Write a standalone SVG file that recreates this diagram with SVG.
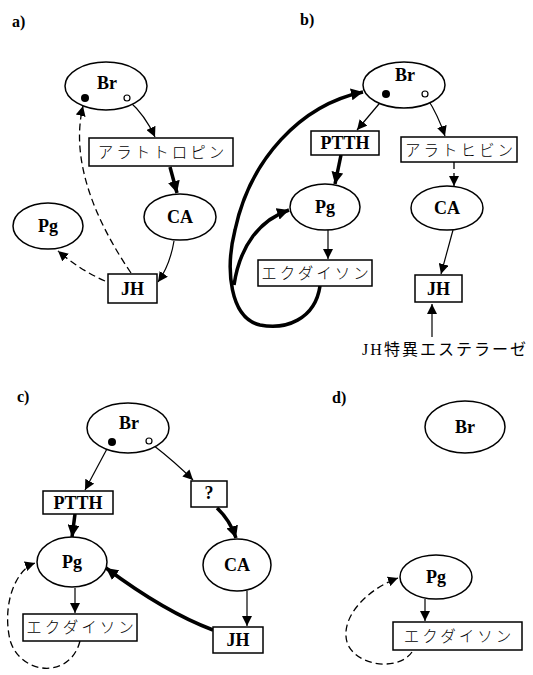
<svg xmlns="http://www.w3.org/2000/svg" width="533" height="675" viewBox="0 0 533 675">
<defs>
<style>
.bg{fill:#fff}
.n{fill:#fff;stroke:#000;stroke-width:1.5}
.lb{font-family:"Liberation Serif","Times New Roman",serif;font-weight:bold;font-size:18px;text-anchor:middle;fill:#000}
.pl{font-family:"Liberation Serif","Times New Roman",serif;font-weight:bold;font-size:16px;fill:#000}
.kt{font-family:"Noto Sans CJK JP",sans-serif;font-weight:300;font-size:15.5px;text-anchor:middle;letter-spacing:3px;fill:#000}
.es{font-family:"Liberation Serif","Noto Sans CJK JP",serif;font-size:16px;text-anchor:middle;letter-spacing:2px;fill:#000}
.c{fill:none;stroke:#000;stroke-width:1.2}
.t{fill:none;stroke:#000;stroke-width:3.5}
.d{fill:none;stroke:#000;stroke-width:1.3;stroke-dasharray:7 4}
</style>
<marker id="ah" markerUnits="userSpaceOnUse" markerWidth="12" markerHeight="10" refX="10" refY="5" orient="auto"><path d="M0,0 L10,5 L0,10 z" fill="#000"/></marker>
<marker id="ahT" markerUnits="userSpaceOnUse" markerWidth="14" markerHeight="12" refX="12" refY="6" orient="auto"><path d="M0,0 L12,6 L0,12 z" fill="#000"/></marker>
</defs>
<rect class="bg" x="0" y="0" width="533" height="675"/>

<!-- panel labels -->
<text class="pl" x="12" y="27">a)</text>
<text class="pl" x="300" y="25">b)</text>
<text class="pl" x="17" y="402">c)</text>
<text class="pl" x="332" y="403">d)</text>

<g id="connectors">
<!-- a -->
<path class="c" d="M129,101 Q145,115 155,137" marker-end="url(#ah)"/>
<path class="t" d="M170,167 L177,193" marker-end="url(#ahT)"/>
<path class="c" d="M174,241 Q170,265 158,282" marker-end="url(#ah)"/>
<path class="d" d="M131,273 C95,220 70,160 83,106" marker-end="url(#ah)"/>
<path class="d" d="M105,281 Q80,270 58,251" marker-end="url(#ah)"/>
<!-- b -->
<path class="c" d="M384,98 L357,130" marker-end="url(#ah)"/>
<path class="c" d="M427,98 Q438,115 445,136" marker-end="url(#ah)"/>
<path class="t" d="M341,155 L335,184" marker-end="url(#ahT)"/>
<path class="d" d="M454,162 L454,186" marker-end="url(#ah)"/>
<path class="c" d="M328,230 L328,259" marker-end="url(#ah)"/>
<path class="c" d="M453,230 L441,274" marker-end="url(#ah)"/>
<path class="c" d="M432,337 L432,304" marker-end="url(#ah)"/>
<path class="t" d="M320,286 C315,320 285,330 260,325 C230,318 225,270 235,230 C250,160 300,105 363,92" marker-end="url(#ahT)"/>
<path class="t" d="M234,285 C240,245 260,220 289,210" marker-end="url(#ahT)"/>
<!-- c -->
<path class="c" d="M108,447 L85,490" marker-end="url(#ah)"/>
<path class="c" d="M153,445 Q175,462 193,480" marker-end="url(#ah)"/>
<path class="t" d="M217,508 Q230,520 236,538" marker-end="url(#ahT)"/>
<path class="t" d="M75,514 L72,537" marker-end="url(#ahT)"/>
<path class="c" d="M75,588 L75,613" marker-end="url(#ah)"/>
<path class="c" d="M247,591 L247,626" marker-end="url(#ah)"/>
<path class="t" d="M213,630 Q165,612 106,568" marker-end="url(#ahT)"/>
<path class="d" d="M80,641 C70,680 20,675 10,640 C2,605 15,570 35,563" marker-end="url(#ah)"/>
<!-- d -->
<path class="c" d="M425,599 L425,621" marker-end="url(#ah)"/>
<path class="d" d="M412,652 C400,670 360,668 348,645 C338,620 365,590 398,578" marker-end="url(#ah)"/>
</g>

<!-- panel a nodes -->
<g id="a-Br"><ellipse class="n" cx="106" cy="86" rx="41" ry="24"/><text class="lb" x="107" y="89">Br</text><circle cx="85" cy="98" r="4" fill="#000"/><circle cx="127" cy="98" r="3" fill="#fff" stroke="#000" stroke-width="1.2"/></g>
<g id="a-allatotropin"><rect class="n" x="89" y="138" width="144" height="28"/><text class="kt" x="162.5" y="158">アラトトロピン</text></g>
<g id="a-CA"><ellipse class="n" cx="180" cy="217" rx="36" ry="23"/><text class="lb" x="180" y="223">CA</text></g>
<g id="a-Pg"><ellipse class="n" cx="48" cy="226" rx="35" ry="23"/><text class="lb" x="48" y="232">Pg</text></g>
<g id="a-JH"><rect class="n" x="108" y="274" width="49" height="29"/><text class="lb" x="132.5" y="295">JH</text></g>

<!-- panel b nodes -->
<g id="b-Br"><ellipse class="n" cx="404" cy="85" rx="41" ry="23"/><text class="lb" x="405" y="81">Br</text><circle cx="386" cy="94" r="4" fill="#000"/><circle cx="425" cy="94" r="3" fill="#fff" stroke="#000" stroke-width="1.2"/></g>
<g id="b-PTTH"><rect class="n" x="311" y="131" width="68" height="24"/><text class="lb" x="345" y="149">PTTH</text></g>
<g id="b-allatohibin"><rect class="n" x="401" y="137" width="116" height="25"/><text class="kt" x="460.5" y="156">アラトヒビン</text></g>
<g id="b-Pg"><ellipse class="n" cx="325" cy="207" rx="35" ry="23"/><text class="lb" x="325" y="213">Pg</text></g>
<g id="b-CA"><ellipse class="n" cx="447" cy="208" rx="36" ry="22"/><text class="lb" x="447" y="214">CA</text></g>
<g id="b-ecdysone"><rect class="n" x="258" y="260" width="114" height="26"/><text class="kt" x="316.5" y="279">エクダイソン</text></g>
<g id="b-JH"><rect class="n" x="415" y="275" width="47" height="27"/><text class="lb" x="438.5" y="295">JH</text></g>
<g id="b-esterase"><text class="es" x="445" y="355">JH特異エステラーゼ</text></g>

<!-- panel c nodes -->
<g id="c-Br"><ellipse class="n" cx="128" cy="428" rx="41" ry="25"/><text class="lb" x="129" y="429">Br</text><circle cx="112" cy="442" r="4" fill="#000"/><circle cx="149" cy="441" r="3" fill="#fff" stroke="#000" stroke-width="1.2"/></g>
<g id="c-PTTH"><rect class="n" x="43" y="491" width="70" height="23"/><text class="lb" x="78" y="509">PTTH</text></g>
<g id="c-q"><rect class="n" x="191" y="481" width="36" height="26"/><text class="lb" x="209" y="499">?</text></g>
<g id="c-Pg"><ellipse class="n" cx="72" cy="562" rx="35" ry="25"/><text class="lb" x="72" y="568">Pg</text></g>
<g id="c-CA"><ellipse class="n" cx="237" cy="565" rx="34" ry="26"/><text class="lb" x="237" y="571">CA</text></g>
<g id="c-ecdysone"><rect class="n" x="23" y="614" width="114" height="27"/><text class="kt" x="81.5" y="633">エクダイソン</text></g>
<g id="c-JH"><rect class="n" x="213" y="627" width="50" height="26"/><text class="lb" x="238" y="646">JH</text></g>

<!-- panel d nodes -->
<g id="d-Br"><ellipse class="n" cx="465" cy="427" rx="40" ry="26"/><text class="lb" x="465" y="433">Br</text></g>
<g id="d-Pg"><ellipse class="n" cx="436" cy="577" rx="36" ry="22"/><text class="lb" x="436" y="583">Pg</text></g>
<g id="d-ecdysone"><rect class="n" x="393" y="622" width="129" height="28"/><text class="kt" x="459" y="642">エクダイソン</text></g>
</svg>
